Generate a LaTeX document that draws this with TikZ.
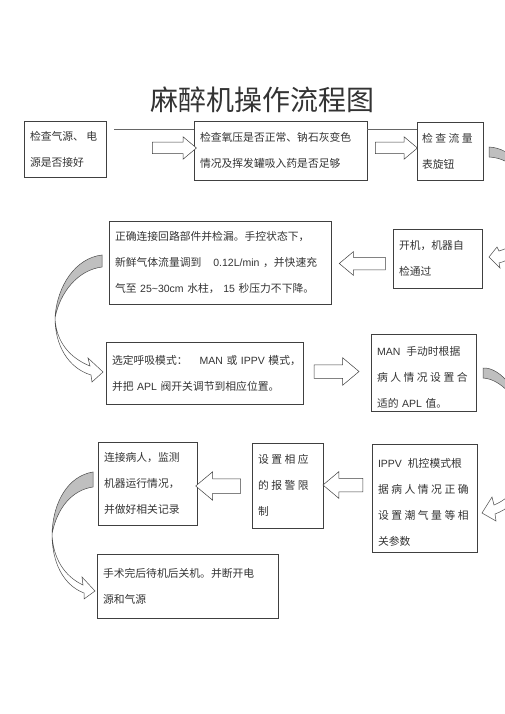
\documentclass[tikz,border=0pt]{standalone}
\usepackage{fontspec}
\setmainfont{Noto Sans CJK SC}
\newfontfamily\enfont{Liberation Sans}
\newcommand\en[1]{{\enfont\fontsize{10.5}{26}\selectfont #1}}
\newcommand\gp{\kern2.5pt}
\usetikzlibrary{shapes.arrows}
\tikzstyle{stepbox}=[draw=black!75,line width=0.6pt,inner xsep=6pt,inner ysep=0pt,align=left,font=\fontsize{10.8}{26}\selectfont,text=black!80]
\tikzstyle{fatarrow}=[single arrow,draw=black!75,line width=0.5pt,fill=white,inner xsep=0pt,single arrow tip angle=80]
\tikzstyle{curvearrow}=[draw=black!70,line width=0.5pt]

\begin{document}
\begin{tikzpicture}[x=1pt,y=-1pt]
	\useasboundingbox (0,0) rectangle (505,714);

	\node[text=black!80,font=\fontsize{28}{30}\selectfont] (title) at (262,100) {麻醉机操作流程图};

	% first row
	\node[stepbox,text width=70pt,minimum height=56pt] (gas) at (65,149) {检查气源、\gp 电\\源是否接好};
	\node[stepbox,text width=161pt,minimum height=59pt] (oxy) at (280.5,150.5) {检查氧压是否正常、钠石灰变色\\情况及挥发罐吸入药是否足够};
	\node[stepbox,text width=56pt,inner xsep=5pt,minimum height=58pt] (flow) at (450,151) {检\gp 查\gp 流\gp 量\\表旋钮};
	\coordinate (l0) at (114,129);
	\draw[black!60,line width=0.5pt] (l0) -- (l0 -| oxy.west);
	\draw[black!60,line width=0.5pt] (oxy.east |- l0) -- (flow.west |- l0);
	\node[fatarrow,inner ysep=5.5pt,minimum height=44pt,minimum width=22pt,single arrow head extend=5.5pt] (a1) at (171,148) {};
	\node[fatarrow,inner ysep=5.5pt,minimum height=42pt,minimum width=22pt,single arrow head extend=5.5pt] (a2) at (393,148) {};

	% second row
	\node[stepbox,text width=210pt,minimum height=83pt] (leak) at (220,262.5) {正确连接回路部件并检漏。手控状态下，\\新鲜气体流量调到\kern12pt\en{0.12L/min}~，并快速充\\气至~\en{25\textasciitilde30cm}~水柱，~\en{15}~秒压力不下降。};
	\node[stepbox,text width=77pt,minimum height=59pt] (self) at (437.5,258.5) {开机，机器自\\检通过};
	\node[fatarrow,shape border rotate=180,inner ysep=6pt,minimum height=46pt,minimum width=23pt,single arrow head extend=5.5pt] (a3) at (366,263.5) {};

	% third row
	\node[stepbox,text width=185pt,minimum height=62pt] (mode) at (204.5,373) {选定呼吸模式：\kern12pt\en{MAN}~或~\en{IPPV}~模式，\\并把~\en{APL}~阀开关调节到相应位置。};
	\node[stepbox,text width=93pt,minimum height=77pt] (man) at (423.5,372.5) {\rule{0pt}{19pt}\en{MAN}\kern6pt 手动时根据\\病\gp 人\gp 情\gp 况\gp 设\gp 置\gp 合\\适的~\en{APL}~值。};
	\node[fatarrow,inner ysep=6.5pt,minimum height=45pt,minimum width=27pt,single arrow head extend=7pt] (a4) at (332.5,371.5) {};

	% fourth row
	\node[stepbox,text width=87pt,minimum height=83pt] (watch) at (147.5,483.5) {连接病人，监测\\机器运行情况，\\并做好相关记录};
	\node[stepbox,text width=59pt,minimum height=85pt] (alarm) at (287.5,485.5) {设\gp 置\gp 相\gp 应\\的\gp 报\gp 警\gp 限\\制};
	\node[stepbox,text width=93pt,minimum height=108pt] (ippv) at (424.5,498) {\rule{0pt}{17pt}\en{IPPV}\kern6pt 机控模式根\\据\gp 病\gp 人\gp 情\gp 况\gp 正\gp 确\\设\gp 置\gp 潮\gp 气\gp 量\gp 等\gp 相\\关参数};
	\node[fatarrow,shape border rotate=180,inner ysep=7pt,minimum height=45pt,minimum width=28pt,single arrow head extend=7pt] (a5) at (222.5,486) {};
	\node[fatarrow,shape border rotate=180,inner ysep=6.5pt,minimum height=40pt,minimum width=26pt,single arrow head extend=6.5pt] (a6) at (347,485) {};

	% last step
	\node[stepbox,text width=169pt,minimum height=64pt] (off) at (187.5,586) {手术完后待机后关机。并断开电\\源和气源};

	% curved arrows on the left
	\draw[curvearrow,fill=black!25] (102,255) .. controls (76,258) and (57,285) .. (55,318) .. controls (60,292) and (78,270) .. (102,267) -- cycle;
	\draw[curvearrow,fill=white] (55,318) .. controls (56,342) and (70,358) .. (90,366) -- (88,358) -- (103,372) -- (92,382) -- (91,375) .. controls (68,368) and (55,345) .. (55,318) -- cycle;
	\draw[curvearrow,fill=black!25] (93,472) .. controls (68,476) and (53,502) .. (52,534) .. controls (57,508) and (72,490) .. (93,487) -- cycle;
	\draw[curvearrow,fill=white] (52,534) .. controls (53,558) and (64,576) .. (83,585) -- (82,577) -- (95,591) -- (84,599) -- (84,593) .. controls (63,585) and (52,562) .. (52,534) -- cycle;

	% curved arrows on the right, cut by the page
	\begin{scope}
		\clip (0,0) rectangle (505,714);
		\draw[curvearrow,fill=black!25] (489,147) .. controls (512,148) and (533,172) .. (536,205) .. controls (530,178) and (512,158) .. (489,157) -- cycle;
		\draw[curvearrow,fill=white] (536,205) .. controls (535,228) and (522,244) .. (499,251) -- (497,247) -- (489,257) -- (500,268) -- (499,263) .. controls (524,256) and (537,234) .. (536,205) -- cycle;
		\draw[curvearrow,fill=black!25] (483,368) .. controls (500,367) and (524,392) .. (530,440) .. controls (525,405) and (503,379) .. (483,378) -- cycle;
		\draw[curvearrow,fill=white] (530,440) .. controls (529,475) and (514,497) .. (494,505) -- (492,497) -- (482,513) -- (496,521) -- (495,514) .. controls (520,505) and (532,478) .. (530,440) -- cycle;
	\end{scope}
\end{tikzpicture}
\end{document}
